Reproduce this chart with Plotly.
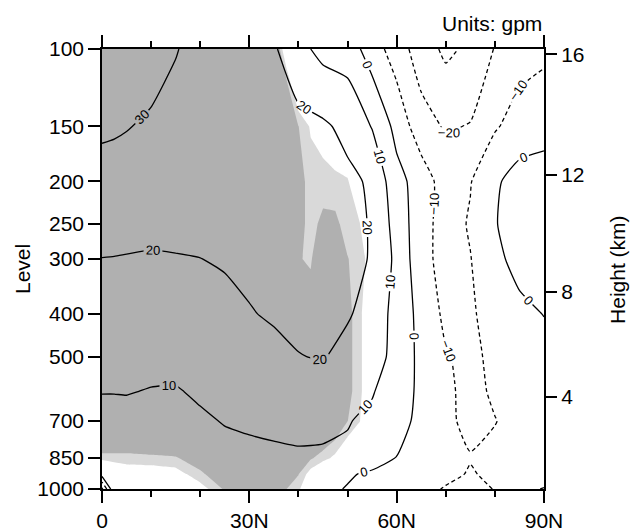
import math
import plotly.graph_objects as go

# ---------------- data ----------------
levels = [1000, 925, 850, 700, 600, 500, 400, 300, 250, 200, 150, 100]
lats = [0, 2.5, 5, 10, 15, 20, 25, 30, 35, 40, 45, 50, 55, 60, 65, 70, 75, 80, 85, 90]

# height difference (gpm) on each pressure level, along lats
diff_1000 = [-22, 9, 5, 5, 5, 5, 5.5, 5.5, 5, 4, 2, -0.5, -3, -5, -7, -10.8, -12.5, -9.7, -8.5, -10.3]
diff_925 = [4, 6, 5.5, 5.5, 5.5, 6, 6.5, 7, 7, 6.5, 5, 1, -1.5, -4, -6, -7.5, -10.8, -8, -7, -7]
diff_850 = [6, 6, 6, 6.5, 7, 7.5, 8.2, 8.7, 9.0, 9.3, 9.2, 8.5, 4.4, -0.2, -4, -8, -9.5, -8, -6, -5]
diff_700 = [8, 8, 8, 7.8, 8, 9.2, 10.3, 10.8, 11.2, 11.5, 11.3, 10.5, 8, 3.5, -2.5, -8, -12.5, -10.3, -7, -5.5]
diff_600 = [10.2, 10.2, 10.3, 9.7, 9.6, 10.8, 12.3, 13.5, 14.6, 15.7, 16.1, 13.6, 10.7, 4.5, -1.9, -8, -13, -8.5, -6, -4.5]
diff_500 = [12.8, 12.8, 12.8, 12.1, 12, 13.4, 14.4, 16.1, 17.7, 19.75, 20.5, 17.4, 15.5, 6, -2.3, -9.3, -12.5, -7.5, -5, -4]
diff_400 = [15.9, 15.7, 15.5, 15.1, 15.3, 16.2, 17.1, 19.5, 21, 22, 22.5, 20.8, 16.8, 6.2, -2.9, -12.2, -11, -7, -3, 0.3]
diff_300 = [19.9, 19.8, 19.6, 19.3, 19.5, 19.9, 21, 22, 22.5, 22.5, 22.5, 22, 19.5, 7.6, -6.5, -13.8, -10.3, -3, 4, 5]
diff_250 = [22.5, 22.5, 22.5, 22, 22.5, 23, 23.5, 24, 24, 24, 24, 23, 19.25, 6, -6, -14.3, -9.1, -0.5, 4, 6]
diff_200 = [27.5, 27.3, 27, 26.5, 26, 25.5, 25, 24.5, 24, 23.5, 23, 22, 18.7, 3.2, -4.4, -15, -10.5, -1.5, 4, 5]
diff_150 = [31.1, 30.8, 30.3, 29, 28, 27, 26, 25, 24, 23, 21.5, 17.5, 9.5, -3, -16, -21, -19.5, -11, -6, -4]
diff_100 = [36, 35.8, 35.3, 33, 30.3, 28, 25.5, 23.2, 21.2, 13, 7, 5.5, -5, -15, -25, -32, -28, -19.5, -14, -12]

# significance (t statistic) on its own latitude grid
sig_lats = [0, 5, 10, 15, 20, 25, 30, 35, 37.5, 40, 42.5, 45, 47.5, 50, 52.5, 55, 60, 90]
sig_1000 = [0.2, 0.4, 0.7, 1.0, 1.5, 2.1, 2.4, 2.3, 2.05, 1.78, 1.2, 0.8, 0.5, 0.3, 0.2, 0, 0, 0]
sig_925 = [0.4, 1.4, 1.4, 1.5, 1.95, 2.4, 2.5, 2.4, 2.2, 2.06, 1.5, 1.1, 0.8, 0.5, 0.3, 0.2, 0, 0]
sig_850 = [1.9, 1.9, 1.95, 2.0, 2.3, 2.6, 2.6, 2.6, 2.6, 2.4, 2.1, 1.85, 1.6, 1.25, 1.0, 0.6, 0.2, 0]
sig_700 = [3, 3, 3, 3, 3, 3, 3, 3, 3, 3, 3, 2.8, 2.5, 2.05, 1.72, 1.0, 0.3, 0]
sig_600 = [3, 3, 3, 3, 3, 3, 3, 3, 3, 3, 3, 2.8, 2.6, 2.2, 1.78, 1.3, 0.5, 0]
sig_500 = [3, 3, 3, 3, 3, 3, 3, 3, 3, 3, 3, 2.8, 2.6, 2.2, 1.78, 1.3, 0.5, 0]
sig_400 = [3, 3, 3, 3, 3, 3, 3, 3, 3, 2.8, 2.3, 2.8, 2.6, 2.2, 1.78, 1.3, 0.5, 0]
sig_300 = [3, 3, 3, 3, 3, 3, 3, 3, 2.6, 2.07, 1.98, 2.6, 2.5, 2.06, 1.85, 1.51, 0.5, 0]
sig_250 = [3, 3, 3, 3, 3, 3, 3, 3, 2.7, 2.2, 1.9, 2.15, 2.15, 1.85, 1.72, 0.5, 0, 0]
sig_200 = [3, 3, 3, 3, 3, 3, 3, 3, 3, 2.2, 1.9, 1.85, 1.8, 1.75, 1.2, 0.5, 0, 0]
sig_150 = [3, 3, 3, 3, 3, 3, 3, 3, 3.5, 2.05, 1.65, 1.5, 1.3, 1.0, 0.6, 0.3, 0, 0]
sig_100 = [3, 3, 3, 3, 3, 3, 3, 2.86, 1.16, 0.3, 0, 0, 0, 0, 0, 0, 0, 0]
t90, t95 = 1.70, 2.04

lev_ticks = [1000, 850, 700, 500, 400, 300, 250, 200, 150, 100]
lat_ticks = [0, 30, 60, 90]
lat_labels = ["0", "30N", "60N", "90N"]
lat_minor = [10, 20, 40, 50, 70, 80]
hgt_ticks = [4, 8, 12, 16]

# ---------------- build ----------------
diff = [diff_1000, diff_925, diff_850, diff_700, diff_600, diff_500,
        diff_400, diff_300, diff_250, diff_200, diff_150, diff_100]
sig = [sig_1000, sig_925, sig_850, sig_700, sig_600, sig_500,
       sig_400, sig_300, sig_250, sig_200, sig_150, sig_100]


def isa_pressure(h_km):
    h = h_km * 1000.0
    if h <= 11000:
        return 1013.25 * (1 - 2.25577e-5 * h) ** 5.25588
    return 226.32 * math.exp(-(h - 11000) / 6341.6)


hgt_pos = [isa_pressure(h) for h in hgt_ticks]

FONT = "Liberation Sans, Arial, Helvetica, sans-serif"
DARK = "rgb(176,176,176)"
LIGHT = "rgb(217,217,217)"
CLEAR = "rgba(255,255,255,0)"
CINT = 10
# a wide (empty beyond the data) level range makes plotly place labels
# more densely along each contour, like the original
LABEL_SPAN = 690

fig = go.Figure()

# one filled region per threshold: area above threshold is shaded
for thr, col in [(t90, LIGHT), (t95, DARK)]:
    fig.add_trace(go.Contour(
        x=sig_lats, y=levels, z=sig,
        contours=dict(start=thr, end=thr, size=0.1, coloring="fill"),
        colorscale=[[0, CLEAR], [0.7, CLEAR], [0.7, col], [1, col]],
        line=dict(width=0, smoothing=0),
        showscale=False, hoverinfo="skip",
    ))

fig.add_trace(go.Contour(
    x=lats, y=levels, z=diff,
    contours=dict(start=0, end=LABEL_SPAN, size=CINT, coloring="none", showlabels=True,
                  labelfont=dict(size=13, color="black", family=FONT)),
    line=dict(color="black", width=1.3, smoothing=0.5),
    showscale=False, hoverinfo="skip",
))

fig.add_trace(go.Contour(
    x=lats, y=levels, z=diff, yaxis="y2",
    contours=dict(start=-LABEL_SPAN, end=-CINT, size=CINT, coloring="none", showlabels=True,
                  labelfont=dict(size=13, color="black", family=FONT)),
    line=dict(color="black", width=1.3, dash="4px,3px", smoothing=0.5),
    showscale=False, hoverinfo="skip",
))

axis_common = dict(showgrid=False, zeroline=False, ticks="outside", ticklen=12,
                   tickwidth=1.5, tickcolor="black", linecolor="black", linewidth=1.6,
                   automargin=False,
                   tickfont=dict(size=21, family=FONT, color="black"))

fig.update_layout(
    width=632, height=531,
    margin=dict(l=102, r=88, t=49, b=42),
    paper_bgcolor="white", plot_bgcolor="white",
    showlegend=False,
    xaxis=dict(range=[0, 90], tickvals=lat_ticks, ticktext=lat_labels,
               showline=True, mirror="ticks",
               minor=dict(tickvals=lat_minor, ticks="outside", ticklen=6,
                          tickwidth=1.5, tickcolor="black"),
               **axis_common),
    yaxis=dict(type="log", range=[3, 2], tickvals=lev_ticks,
               ticktext=[str(v) for v in lev_ticks],
               showline=True, mirror=True, **axis_common),
    yaxis2=dict(type="log", range=[3, 2], overlaying="y", side="right",
                tickvals=hgt_pos, ticktext=[str(h) for h in hgt_ticks],
                showline=False, **axis_common),
    annotations=[
        dict(text="Level", x=-0.181, y=0.5, xref="paper", yref="paper",
             xanchor="center", yanchor="middle",
             textangle=-90, showarrow=False, font=dict(size=21, family=FONT, color="black")),
        dict(text="Height (km)", x=1.165, y=0.5, xref="paper", yref="paper",
             xanchor="center", yanchor="middle",
             textangle=-90, showarrow=False, font=dict(size=21, family=FONT, color="black")),
        dict(text="Units: gpm", x=1.0, y=1.0, xref="paper", yref="paper",
             xanchor="right", yanchor="bottom", yshift=12, showarrow=False,
             font=dict(size=21, family=FONT, color="black")),
    ],
)

fig.write_html("out.html", config={"displayModeBar": False},
               post_script="document.body.style.margin='0px';")
